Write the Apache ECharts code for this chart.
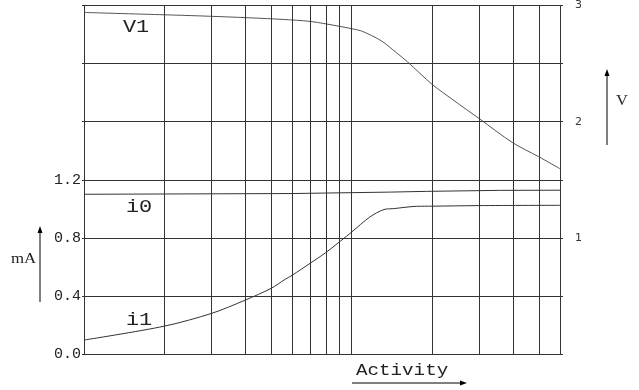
<!DOCTYPE html>
<html>
<head>
<meta charset="utf-8">
<script src="https://cdn.jsdelivr.net/npm/echarts@6/dist/echarts.min.js"></script>
<style>
  html, body { margin: 0; padding: 0; background: #fff; }
  #chart { width: 639px; height: 390px; }
</style>
</head>
<body>
<div id="chart"></div>
<script>
// Activity (log scale) sample points for each curve
const v1Activity = [1, 2, 2.67, 4.17, 5.54, 7, 9.05, 10, 10.9, 12.9, 14.7, 16.2, 20, 23.9, 30, 40, 50, 60];
const v1Volts    = [2.94, 2.92, 2.911, 2.894, 2.88, 2.863, 2.82, 2.8, 2.78, 2.696, 2.593, 2.513, 2.32, 2.188, 2.025, 1.818, 1.698, 1.595];

const i1Activity = [1, 2, 3, 4, 5, 5.64, 6, 7, 7.97, 9.1, 10, 11.7, 13.2, 14.3, 17.5, 20, 30, 60];
const i1mA       = [0.096, 0.192, 0.28, 0.371, 0.452, 0.514, 0.543, 0.625, 0.696, 0.779, 0.84, 0.944, 0.995, 1.001, 1.017, 1.018, 1.022, 1.024];

const i0Activity = [1, 6, 14, 19, 36, 60];
const i0mA       = [1.10, 1.105, 1.115, 1.12, 1.127, 1.128];

// vertical log grid positions
const activityGrid = [2, 3, 4, 5, 6, 7, 8, 9, 10, 20, 30, 40, 50];
// tick labels
const mALabels = [0.0, 0.4, 0.8, 1.2];
const voltLabels = [1, 2, 3];

const pairs = (xs, ys) => xs.map((x, i) => [x, ys[i]]);
const LINE = '#333';
const MONO = '"Liberation Mono", "DejaVu Sans Mono", monospace';
const SERIF = '"Liberation Serif", "DejaVu Serif", serif';

const chart = echarts.init(document.getElementById('chart'), null, { renderer: 'canvas' });

function arrow(x1, y1, x2, y2) {
  const dx = x2 - x1, dy = y2 - y1, len = Math.hypot(dx, dy);
  const ux = dx / len, uy = dy / len, px = -uy, py = ux;
  const hl = 7, hw = 2.5;
  return [
    { type: 'line', shape: { x1, y1, x2: x2 - ux * hl, y2: y2 - uy * hl }, style: { stroke: '#000', lineWidth: 1 } },
    { type: 'polygon', shape: { points: [[x2, y2], [x2 - ux * hl + px * hw, y2 - uy * hl + py * hw], [x2 - ux * hl - px * hw, y2 - uy * hl - py * hw]] }, style: { fill: '#000' } }
  ];
}

function label(text, x, y, font, scaleX) {
  return {
    type: 'text', x, y, scaleX: scaleX || 1,
    style: { text, x: 0, y: 0, font, fill: '#222', align: 'left', verticalAlign: 'middle' }
  };
}

chart.setOption({
  animation: false,
  backgroundColor: '#fff',
  grid: { left: 84, right: 79, top: 5, bottom: 36 },
  xAxis: {
    type: 'log', logBase: 10, min: 1, max: 60,
    axisLine: { show: true, lineStyle: { color: LINE, width: 1 } },
    axisTick: { show: false },
    axisLabel: { show: false },
    splitLine: { show: false }
  },
  yAxis: [
    {
      type: 'value', min: 0, max: 2.4, interval: 0.4, position: 'left',
      axisLine: { show: true, lineStyle: { color: LINE, width: 1 } },
      axisTick: { show: true, inside: false, length: 2, lineStyle: { color: LINE } },
      axisLabel: {
        margin: 3, color: '#222', fontFamily: MONO, fontSize: 15,
        padding: [0, 0, 6, 0],
        formatter: v => mALabels.some(m => Math.abs(m - v) < 1e-6) ? v.toFixed(1) : ''
      },
      splitLine: { show: true, lineStyle: { color: LINE, width: 1 } }
    },
    {
      type: 'value', min: 0, max: 3, interval: 0.5, position: 'right',
      axisLine: { show: true, lineStyle: { color: LINE, width: 1 } },
      axisTick: { show: true, inside: false, length: 3, lineStyle: { color: LINE } },
      axisLabel: {
        margin: 15, color: '#333', fontFamily: '"DejaVu Sans", sans-serif', fontSize: 11,
        formatter: v => voltLabels.indexOf(v) >= 0 ? String(v) : ''
      },
      splitLine: { show: false }
    }
  ],
  series: [
    {
      name: 'V1', type: 'line', yAxisIndex: 1, showSymbol: false, silent: true, smooth: 0.3,
      data: pairs(v1Activity, v1Volts),
      lineStyle: { color: '#555', width: 1 },
      markLine: {
        silent: true, symbol: 'none', label: { show: false },
        lineStyle: { color: LINE, width: 1, type: 'solid' },
        data: activityGrid.map(a => ({ xAxis: a }))
      }
    },
    {
      name: 'i1', type: 'line', yAxisIndex: 0, showSymbol: false, silent: true, smooth: 0.3,
      data: pairs(i1Activity, i1mA),
      lineStyle: { color: '#333', width: 1 }
    },
    {
      name: 'i0', type: 'line', yAxisIndex: 0, showSymbol: false, silent: true,
      data: pairs(i0Activity, i0mA),
      lineStyle: { color: '#333', width: 1 }
    }
  ],
  graphic: [
    label('V1', 123, 27, '19px ' + MONO, 1.15),
    label('i0', 126, 207, '19px ' + MONO, 1.15),
    label('i1', 126, 320, '19px ' + MONO, 1.15),
    label('Activity', 356, 371, '16px ' + MONO, 1.2),
    label('mA', 11, 259, '14px ' + SERIF, 1.2),
    label('V', 616, 101, '15px ' + SERIF, 1.1),
    ...arrow(40, 302, 40, 226),
    ...arrow(607, 145, 607, 69),
    ...arrow(352, 383, 467, 383)
  ]
});
</script>
</body>
</html>
